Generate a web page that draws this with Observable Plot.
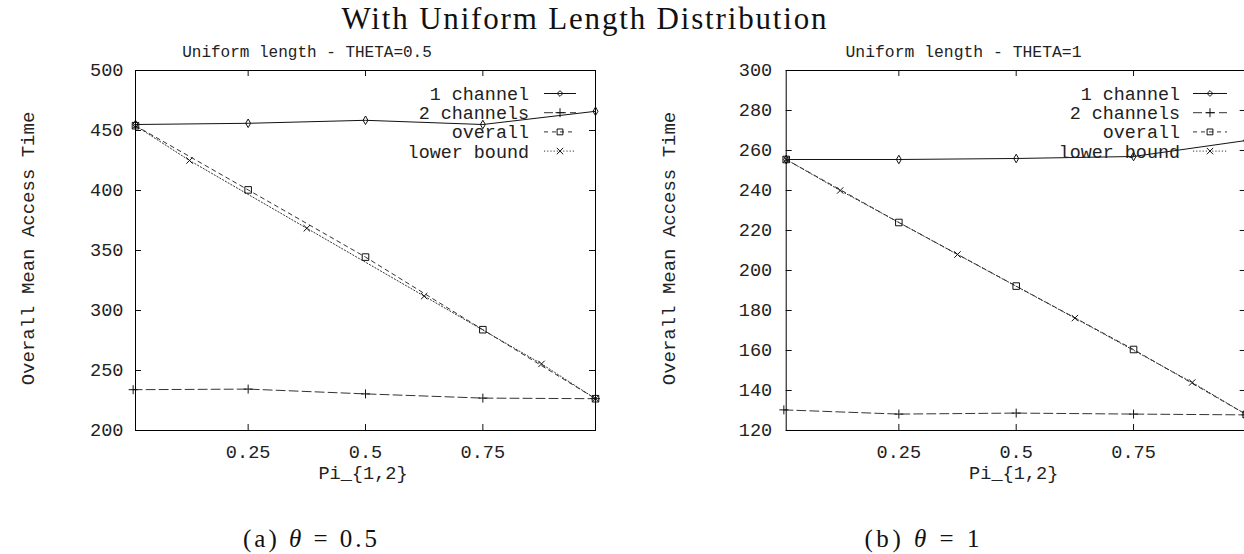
<!DOCTYPE html>
<html><head><meta charset="utf-8">
<script src="https://cdn.jsdelivr.net/npm/d3@7"></script>
<script src="https://cdn.jsdelivr.net/npm/@observablehq/plot@0.6"></script>
<style>
html,body{margin:0;padding:0;background:#fff;}
#wrap{position:relative;width:1244px;height:554px;overflow:hidden;background:#fff;}
#wrap > .panel{position:absolute;top:0;}
#overlay{position:absolute;left:0;top:0;pointer-events:none;}
</style></head><body><div id="wrap"></div>
<script>
// ---- text ----
const mainTitle = "With Uniform Length Distribution";
const subtitleA = "Uniform length - THETA=0.5";
const subtitleB = "Uniform length - THETA=1";
const captionA = ["(a) ", "θ", " = 0.5"];
const captionB = ["(b) ", "θ", " = 1"];
const xLabel = "Pi_{1,2}";
const yLabel = "Overall Mean Access Time";
const seriesNames = ["1 channel", "2 channels", "overall", "lower bound"];

// ---- x positions ----
const xPts = [0.01, 0.25, 0.5, 0.75, 0.99];
const xTwoPts = [0.005, 0.25, 0.5, 0.75, 0.99];
const xLowerPts = [0.01, 0.125, 0.375, 0.625, 0.875, 0.99];
const xDomain = [0.01, 0.99];
const xTicks = [0.25, 0.5, 0.75];

// ---- panel (a) theta = 0.5 ----
const oneA = [455, 456, 458.5, 455, 466];
const twoA = [234, 234.5, 230.5, 227, 226.5];
const overallA = [454, 400.5, 344.5, 284, 226.5];
const lowerA = [454, 425, 368.5, 312, 255.5, 226.5];
const yDomainA = [200, 500];
const yTicksA = [200, 250, 300, 350, 400, 450, 500];

// ---- panel (b) theta = 1 ----
const oneB = [255.5, 255.5, 256, 257, 265];
const twoB = [130.3, 128.2, 128.7, 128.2, 127.8];
const overallB = [255.5, 224, 192.2, 160.5, 128];
const lowerB = [255.5, 240, 208, 176.2, 144, 128];
const yDomainB = [120, 300];
const yTicksB = [120, 140, 160, 180, 200, 220, 240, 260, 280, 300];

// ---- styles ----
const MONO = "'Liberation Mono', 'DejaVu Sans Mono', monospace";
const SERIF = "'Liberation Serif', 'DejaVu Serif', serif";
const styles = [
  {stroke: "#111", dash: null, symbol: "diamond", r: 2.6},
  {stroke: "#333", dash: "9,4", symbol: "plus", r: 3},
  {stroke: "#333", dash: "4,4", symbol: "square", r: 3.7},
  {stroke: "#333", dash: "1.2,2", symbol: "times", r: 3}
];
const d3Sym = {diamond: d3.symbolDiamond2, plus: d3.symbolPlus, square: d3.symbolSquare2, times: d3.symbolTimes};

function legendMark(textGap, sampleStart, sampleEnd) {
  return (index, scales, values, dims) => {
    const g = d3.create("svg:g");
    const right = dims.width - dims.marginRight;
    const top = dims.marginTop;
    seriesNames.forEach((name, i) => {
      const st = styles[i];
      const y = top + 23.5 + i * 19.2;
      g.append("text").attr("x", right - textGap).attr("y", y).attr("dy", "0.35em")
        .attr("text-anchor", "end").attr("fill", "#222")
        .attr("font-family", MONO).attr("font-size", 18.4).text(name);
      g.append("line").attr("x1", right - sampleStart).attr("x2", right - sampleEnd)
        .attr("y1", y).attr("y2", y).attr("stroke", st.stroke).attr("stroke-width", 1)
        .attr("stroke-dasharray", st.dash);
      g.append("path").attr("transform", `translate(${right - (sampleStart + sampleEnd) / 2},${y})`)
        .attr("d", d3.symbol(d3Sym[st.symbol], Math.PI * st.r * st.r)())
        .attr("fill", "none").attr("stroke", "#111").attr("stroke-width", 1);
    });
    return g.node();
  };
}

function panel({one, two, overall, lower, yDomain, yTicks, marginLeft, width, tickPad, yLabelDx, legend}) {
  const frameW = width - marginLeft - 25;
  const frameH = 360;
  const series = [
    {xs: xPts, ys: one}, {xs: xTwoPts, ys: two}, {xs: xPts, ys: overall}, {xs: xLowerPts, ys: lower}
  ];
  const lineMarks = [];
  series.forEach((s, i) => {
    const st = styles[i];
    lineMarks.push(Plot.line(s.ys, {x: (d, j) => s.xs[j], y: d => d, stroke: st.stroke, strokeWidth: 1, strokeDasharray: st.dash || undefined}));
  });
  series.forEach((s, i) => {
    const st = styles[i];
    lineMarks.push(Plot.dot(s.ys, {x: (d, j) => s.xs[j], y: d => d, symbol: st.symbol, r: st.r, stroke: "#111", strokeWidth: 1, fill: "none"}));
  });
  return Plot.plot({
    width, height: 490,
    marginLeft, marginRight: 25, marginTop: 70, marginBottom: 60,
    x: {domain: xDomain},
    y: {domain: yDomain},
    style: {fontFamily: MONO, fontSize: "18.6px", color: "#222", background: "transparent", overflow: "visible"},
    marks: [
      Plot.tickX(xTicks, {x: d => d, insetTop: frameH - 6, stroke: "#111"}),
      Plot.tickX(xTicks, {x: d => d, insetBottom: frameH - 6, stroke: "#111"}),
      Plot.tickY(yTicks, {y: d => d, insetRight: frameW - 6, stroke: "#111"}),
      Plot.tickY(yTicks, {y: d => d, insetLeft: frameW - 6, stroke: "#111"}),
      Plot.axisX(xTicks, {tickSize: 0, tickPadding: 14, label: null, tickFormat: d => String(d)}),
      Plot.axisY(yTicks, {tickSize: 0, tickPadding: tickPad, label: null, tickFormat: d => String(d)}),
      Plot.text([xLabel], {frameAnchor: "bottom", dy: 43, dx: -2.5, lineAnchor: "middle", textAnchor: "middle", text: d => d, fill: "#222"}),
      Plot.text([yLabel], {frameAnchor: "left", dx: yLabelDx, dy: -2, rotate: -90, text: d => d, fontSize: 19, fill: "#222", lineAnchor: "middle", textAnchor: "middle"}),
      ...lineMarks,
      Plot.frame({stroke: "#000", strokeWidth: 1}),
      legendMark(...legend)
    ]
  });
}

const wrap = document.getElementById("wrap");

const pA = panel({one: oneA, two: twoA, overall: overallA, lower: lowerA, yDomain: yDomainA, yTicks: yTicksA,
  marginLeft: 135, width: 620, tickPad: 12, yLabelDx: -108, legend: [66, 51, 19]});
pA.classList.add("panel"); pA.style.left = "0px";
wrap.appendChild(pA);

const pB = panel({one: oneB, two: twoB, overall: overallB, lower: lowerB, yDomain: yDomainB, yTicks: yTicksB,
  marginLeft: 145.7, width: 630.7, tickPad: 14, yLabelDx: -117.7, legend: [65.7, 52.7, 18.7]});
pB.classList.add("panel"); pB.style.left = "640px";
wrap.appendChild(pB);

// ---- overlay: titles and captions ----
const ov = d3.create("svg").attr("id", "overlay").attr("width", 1244).attr("height", 554);
ov.append("text").attr("x", 584).attr("y", 29).attr("text-anchor", "middle")
  .attr("font-family", SERIF).attr("font-size", 31).attr("fill", "#111")
  .attr("textLength", 485).attr("lengthAdjust", "spacing").text(mainTitle);
ov.append("text").attr("x", 307).attr("y", 57).attr("text-anchor", "middle")
  .attr("font-family", MONO).attr("font-size", 16).attr("fill", "#222").text(subtitleA);
ov.append("text").attr("x", 963.5).attr("y", 57).attr("text-anchor", "middle")
  .attr("font-family", MONO).attr("font-size", 16.4).attr("fill", "#222").text(subtitleB);
function caption(parts, cx, len) {
  const t = ov.append("text").attr("x", cx).attr("y", 547).attr("text-anchor", "middle")
    .attr("font-family", SERIF).attr("font-size", 25).attr("fill", "#111")
    .attr("textLength", len).attr("lengthAdjust", "spacing");
  t.append("tspan").text(parts[0]);
  t.append("tspan").attr("font-style", "italic").text(parts[1]);
  t.append("tspan").text(parts[2]);
}
caption(captionA, 310, 134);
caption(captionB, 922, 115);
wrap.appendChild(ov.node());
</script>
</body></html>
